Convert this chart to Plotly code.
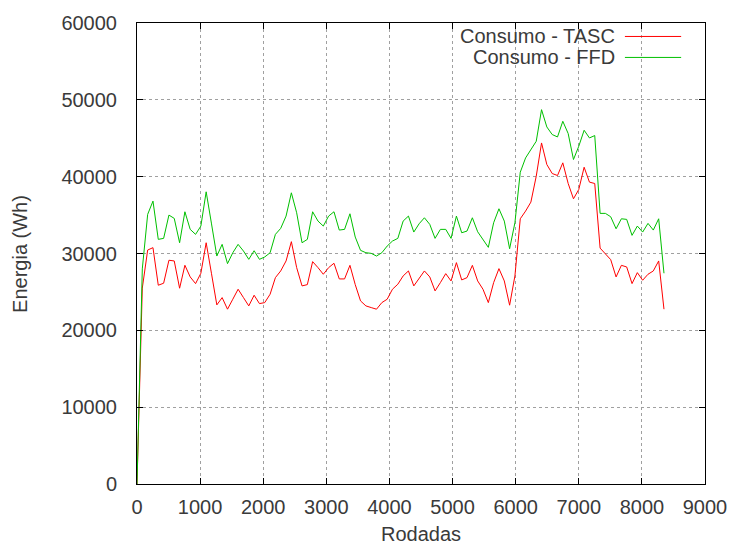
import plotly.graph_objects as go

# Round counts (x axis)
rodadas = [0, 84, 169, 253, 337, 422, 506, 590, 675, 759,
           843, 928, 1012, 1096, 1181, 1265, 1349, 1434, 1518, 1602,
           1687, 1771, 1856, 1940, 2024, 2109, 2193, 2277, 2362, 2446,
           2530, 2615, 2699, 2783, 2868, 2952, 3036, 3121, 3205, 3289,
           3374, 3458, 3542, 3627, 3711, 3795, 3880, 3964, 4048, 4133,
           4217, 4301, 4386, 4470, 4554, 4639, 4723, 4807, 4892, 4976,
           5061, 5145, 5229, 5314, 5398, 5482, 5567, 5651, 5735, 5820,
           5904, 5988, 6073, 6157, 6241, 6326, 6410, 6494, 6579, 6663,
           6747, 6832, 6916, 7000, 7085, 7169, 7253, 7338, 7422, 7506,
           7591, 7675, 7759, 7844, 7928, 8012, 8097, 8181, 8266, 8350]

# Energy consumption, TASC (Wh)
consumo_tasc = [0, 25500, 30450, 30760, 25870, 26130, 29120, 29030, 25480, 28470,
                26950, 26080, 27430, 31400, 27360, 23310, 24260, 22750, 24050, 25350,
                24260, 23180, 24570, 23480, 23610, 24700, 26860, 27730, 29030, 31540,
                28160, 25780, 25950, 28940, 28160, 27300, 28160, 28730, 26690, 26690,
                28460, 25950, 23830, 23180, 22960, 22750, 23610, 24050, 25350, 26000,
                27080, 27730, 25780, 26780, 27730, 26950, 25130, 26210, 27380, 26430,
                28810, 26560, 26860, 28460, 26430, 25350, 23610, 26210, 28030, 26430,
                23270, 27080, 34520, 35520, 36690, 40060, 44390, 41580, 40410, 40150,
                41800, 39110, 37120, 38330, 41230, 39290, 39110, 30700, 29950, 29200,
                26950, 28460, 28250, 26080, 27510, 26520, 27300, 27730, 29030, 22750]

# Energy consumption, FFD (Wh)
consumo_ffd = [0, 28000, 35090, 36820, 31840, 31970, 35000, 34570, 31400, 35430,
               33140, 32490, 33570, 38030, 33850, 29670, 31190, 28680, 30100, 31190,
               30320, 29240, 30360, 29240, 29550, 30100, 32490, 33270, 34870, 37900,
               35300, 31400, 31840, 35430, 34220, 33570, 34870, 35430, 33050, 33140,
               35170, 32140, 30410, 30100, 30020, 29670, 30100, 30970, 31620, 31970,
               34220, 34870, 32790, 33870, 34650, 33790, 31970, 33140, 33140, 31970,
               34870, 32700, 32920, 34650, 32830, 31840, 30800, 34000, 35820, 34220,
               30620, 34000, 40580, 42440, 43530, 44610, 48720, 46470, 45480, 45170,
               47210, 45610, 42230, 43960, 46040, 45040, 45350, 35220, 35220, 34780,
               33220, 34520, 34440, 32360, 33570, 32790, 33920, 33050, 34520, 27430]

series_names = ["Consumo - TASC", "Consumo - FFD"]
series_colors = ["#ff0000", "#00c000"]

FONT = "Liberation Sans"
TEXT_COLOR = "#3a3a3a"
FS = 20

fig = go.Figure()
for name, ys, col in zip(series_names, [consumo_tasc, consumo_ffd], series_colors):
    fig.add_trace(go.Scatter(x=rodadas, y=ys, mode="lines", name=name,
                             line=dict(color=col, width=1)))

axis_common = dict(
    showgrid=True, gridcolor="#a0a0a0", gridwidth=1, griddash="dot",
    showline=True, linecolor="#000000", linewidth=1, mirror="allticks",
    ticks="inside", ticklen=6, tickcolor="#000000", tickwidth=1,
    zeroline=False, tickformat="d",
    tickfont=dict(family=FONT, size=FS, color=TEXT_COLOR),
)

fig.update_layout(
    width=739, height=546,
    margin=dict(l=137, r=26, t=21, b=62),
    paper_bgcolor="white", plot_bgcolor="white",
    showlegend=False,
    xaxis=dict(range=[0, 9000], dtick=1000, tick0=0,
               ticklabelstandoff=5, **axis_common),
    yaxis=dict(range=[0, 60000], dtick=10000, tick0=0,
               ticklabelstandoff=15, **axis_common),
)

# Axis titles
fig.add_annotation(x=0.5, y=-0.109, xref="paper", yref="paper",
                   text="Rodadas", showarrow=False, xanchor="center", yanchor="middle",
                   font=dict(family=FONT, size=FS, color=TEXT_COLOR))
fig.add_annotation(x=-0.207, y=0.5, xref="paper", yref="paper",
                   text="Energia (Wh)", showarrow=False, textangle=-90,
                   xanchor="center", yanchor="middle",
                   font=dict(family=FONT, size=FS, color=TEXT_COLOR))

# Key box in the top-right corner: right-aligned labels with line samples
key_y = [0.9708, 0.9253]
for name, col, yk in zip(series_names, series_colors, key_y):
    fig.add_annotation(x=0.845, y=yk, xref="paper", yref="paper",
                       text=name, showarrow=False, xanchor="right", yanchor="middle",
                       font=dict(family=FONT, size=FS, color=TEXT_COLOR))
    fig.add_shape(type="line", xref="paper", yref="paper",
                  x0=0.859, x1=0.958, y0=yk, y1=yk,
                  line=dict(color=col, width=1))

fig.write_html("out.html")
